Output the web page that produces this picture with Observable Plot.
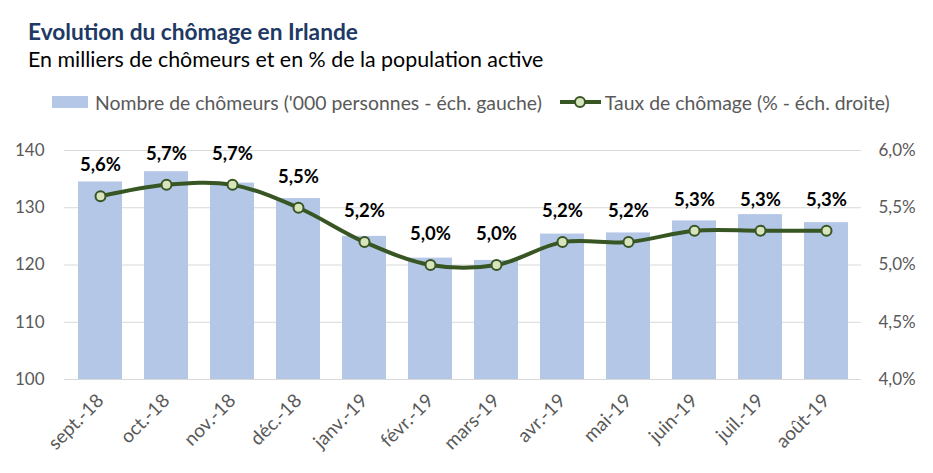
<!DOCTYPE html>
<html><head><meta charset="utf-8">
<script src="https://cdn.jsdelivr.net/npm/d3@7"></script>
<script src="https://cdn.jsdelivr.net/npm/@observablehq/plot@0.6"></script>
<style>
html,body{margin:0;padding:0;background:#fff;}
body{width:933px;height:473px;position:relative;overflow:hidden;font-family:Lato,"Open Sans",sans-serif;}
#title{position:absolute;left:28px;top:20px;font-size:22.7px;line-height:23px;font-weight:bold;color:#203864;white-space:nowrap;}
#subtitle{position:absolute;left:28px;top:48px;font-size:21.4px;line-height:23px;color:#000;white-space:nowrap;}
#legend{position:absolute;left:52px;top:89px;height:26px;font-size:19.4px;color:#595959;white-space:nowrap;display:flex;align-items:center;}
.sw{display:inline-block;width:36px;height:12px;background:#B4C7E7;margin-right:7px;}
.li{display:inline-flex;align-items:center;}
#chart{position:absolute;left:0;top:120px;}
</style></head>
<body>
<div id="title">Evolution du chômage en Irlande</div>
<div id="subtitle">En milliers de chômeurs et en % de la population active</div>
<div id="legend">
  <span class="li"><span class="sw"></span>Nombre de chômeurs ('000 personnes - éch. gauche)</span>
  <span class="li" style="margin-left:17px;"><svg width="44" height="14" style="margin-right:2px"><line x1="1" y1="7" x2="42" y2="7" stroke="#375623" stroke-width="4"/><circle cx="21" cy="7" r="5" fill="#D8E4BC" stroke="#375623" stroke-width="2"/></svg>Taux de chômage (% - éch. droite)</span>
</div>
<div id="chart"></div>
<script>
const months = ["sept.-18","oct.-18","nov.-18","déc.-18","janv.-19","févr.-19","mars-19","avr.-19","mai-19","juin-19","juil.-19","août-19"];
const chomeurs = [134.5,136.3,134.3,131.6,125.0,121.2,120.8,125.4,125.6,127.7,128.8,127.4];
const taux = [5.6,5.7,5.7,5.5,5.2,5.0,5.0,5.2,5.2,5.3,5.3,5.3];
const leftTicks = [100,110,120,130,140];
const rightTicks = [4.0,4.5,5.0,5.5,6.0];

// map rate (right axis 4%-6%) onto left scale (100-140)
const toLeft = r => 100 + (r - 4) * 20;
const fromLeft = v => (v - 100) / 20 + 4;
const fmt = v => d3.format(".1f")(v).replace(".", ",") + "%";

const data = months.map((m, i) => ({m, c: chomeurs[i], t: taux[i], ty: toLeft(taux[i])}));

const chart = Plot.plot({
  width: 933,
  height: 353,
  marginTop: 30,
  marginBottom: 94,
  marginLeft: 64,
  marginRight: 72,
  style: {fontFamily: "Lato, 'Open Sans', sans-serif", background: "white"},
  x: {domain: months, paddingInner: 0.34, paddingOuter: 0.17, label: null},
  y: {domain: [100, 140], label: null},
  marks: [
    Plot.gridY(leftTicks, {stroke: "#D9D9D9", strokeOpacity: 1, strokeWidth: 1}),
    Plot.barY(data, {x: "m", y1: 100, y2: "c", fill: "#B4C7E7"}),
    Plot.line(data, {x: "m", y: "ty", stroke: "#375623", strokeWidth: 4, curve: "catmull-rom"}),
    Plot.dot(data, {x: "m", y: "ty", r: 5, fill: "#D8E4BC", stroke: "#375623", strokeWidth: 2}),
    Plot.text(data, {x: "m", y: "ty", text: d => fmt(d.t), dy: -31, fontSize: 18.5, fontWeight: "bold", fill: "black"}),
    Plot.axisY(leftTicks, {anchor: "left", tickSize: 0, tickPadding: 20, fontSize: 17, fill: "#595959", label: null}),
    Plot.axisY(rightTicks.map(toLeft), {anchor: "right", tickSize: 0, tickPadding: 17, fontSize: 17, fill: "#595959", label: null, tickFormat: v => fmt(fromLeft(v))}),
    Plot.axisX({tickSize: 0, tickPadding: 18, tickRotate: -45, fontSize: 19, fill: "#595959", label: null})
  ]
});
document.getElementById("chart").appendChild(chart);
</script>
</body></html>
